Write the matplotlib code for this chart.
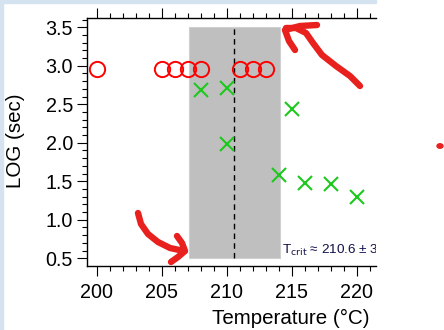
import matplotlib
matplotlib.use("Agg")
import matplotlib.pyplot as plt
from matplotlib.lines import Line2D
from matplotlib.patches import Rectangle, Circle

plt.rcParams['font.family'] = ['Liberation Sans', 'DejaVu Sans']

# Samples that stayed stable (open circles)
stable_temp = [200, 205, 206, 207, 208, 211, 212, 213]
stable_log = [2.96, 2.96, 2.96, 2.96, 2.96, 2.96, 2.96, 2.96]

# Samples that transitioned (crosses)
trans_temp = [208, 210, 210, 214, 215, 216, 218, 220]
trans_log = [2.69, 2.71, 1.99, 1.58, 2.44, 1.48, 1.47, 1.29]

# Critical temperature estimate
t_crit = 210.6
t_err = 3.5
band_low, band_high = 0.5, 3.5

x_ticks = [200, 205, 210, 215, 220]
y_ticks = [0.5, 1.0, 1.5, 2.0, 2.5, 3.0, 3.5]

W, H = 444, 330
fig = plt.figure(figsize=(W / 100, H / 100), dpi=100)
fig.patch.set_facecolor('white')

# window frame strips
fig.patches.append(Rectangle((0, 1 - 3 / H), 376 / W, 3 / H, transform=fig.transFigure,
                             color='#d5e3f1', zorder=0))
fig.patches.append(Rectangle((0, 0), 3 / W, 1, transform=fig.transFigure,
                             color='#d5e3f1', zorder=0))

ax = fig.add_axes([87 / W, 1 - 266 / H, (376 - 87) / W, (266 - 18) / H])

ax.fill_between([t_crit - t_err, t_crit + t_err], band_low, band_high,
                color='#bfbfbf', edgecolor='#d0d0d0', lw=0.8, zorder=1)
ax.vlines(t_crit, band_low, band_high, colors='black', linestyles=(0, (4, 3)),
          lw=1.0, zorder=2)

ax.plot(stable_temp, stable_log, 'o', ms=11, mfc='none', mec='#ff0000',
        mew=1.4, zorder=3)
ax.plot(trans_temp, trans_log, 'x', ms=10, color='#1ec81e', mew=1.5, zorder=3)

ax.text(t_crit + t_err + 0.2, 0.555,
        r"T$_{\mathrm{crit}}$ ≈ %.1f ± %.1f" % (t_crit, t_err),
        fontsize=9.7, color='#10104a', va='baseline', ha='left', clip_on=True,
        zorder=4)

ax.set_xlim(199.25, 221.5)
ax.set_ylim(0.4, 3.62)
ax.set_xticks(x_ticks)
ax.set_yticks(y_ticks)
ax.set_xticks([v for v in range(200, 222)], minor=True)
ax.set_yticks([round(0.5 + 0.1 * i, 1) for i in range(32)], minor=True)
ax.set_yticklabels(["%.1f" % v for v in y_ticks])

for s in ['left', 'top', 'bottom']:
    ax.spines[s].set_linewidth(1.0)
ax.spines['right'].set_visible(False)

ax.tick_params(axis='x', which='both', direction='out', top=True, bottom=True,
               labeltop=False, labelsize=14.2, width=0.8, pad=5)
ax.tick_params(axis='y', which='both', direction='out', right=False,
               labelsize=14.2, width=0.8, pad=3)
ax.tick_params(which='major', length=7)
ax.tick_params(which='minor', length=3.6)

ax.set_xlabel("Temperature (°C)", fontsize=14.8)
ax.xaxis.set_label_coords(0.705, -0.172)
ax.set_ylabel("LOG (sec)", fontsize=14.8)
ax.yaxis.set_label_coords(-0.215, 0.505)

# hand-drawn red arrows, in figure pixel space
def px(points):
    return [p[0] / W for p in points], [1 - p[1] / H for p in points]

strokes = [
    [(138, 213), (141, 224), (148, 234), (158, 242), (170, 248), (184, 251)],
    [(177, 236), (182, 243), (185, 251), (178, 257), (171, 262)],
    [(360, 86), (350, 76), (336, 66), (322, 55), (313, 43), (306, 33), (296, 28), (286, 28)],
    [(295, 50), (289, 41), (285, 30), (300, 26), (317, 25)],
]
for st in strokes:
    xs, ys = px(st)
    fig.add_artist(Line2D(xs, ys, transform=fig.transFigure, color='#e8201e',
                          lw=4.6, solid_capstyle='round', solid_joinstyle='round'))

fig.patches.append(Circle((440 / W, 1 - 146 / H), 3 / W, transform=fig.transFigure,
                          color='#e8201e'))

fig.savefig("out.png", dpi=100)
